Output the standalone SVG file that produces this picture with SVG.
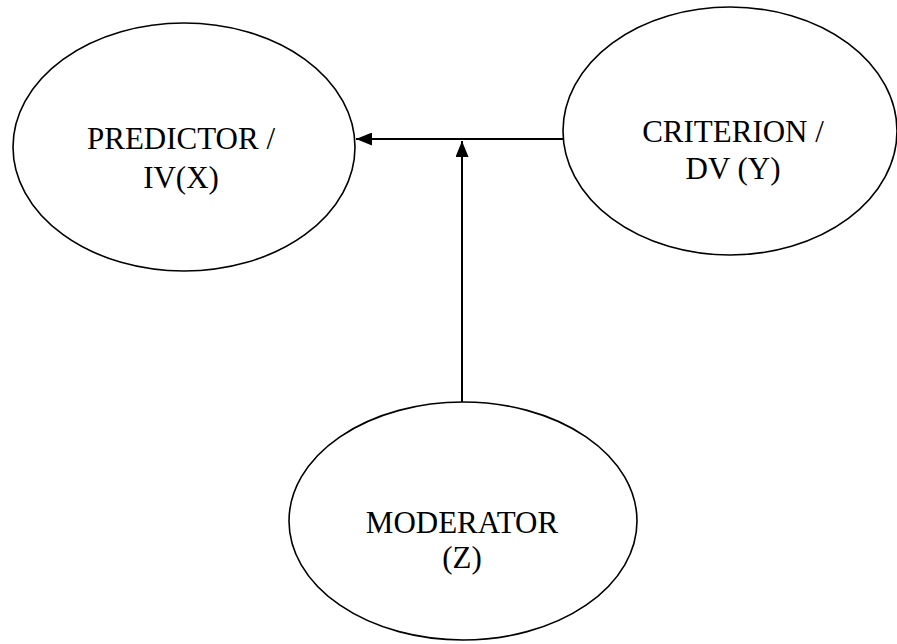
<svg xmlns="http://www.w3.org/2000/svg" width="897" height="644" viewBox="0 0 897 644">
<style>
.node{fill:#fff;stroke:#000;stroke-width:1.6}
.lbl{font-family:"Liberation Serif","Times New Roman",serif;font-size:31px;fill:#000;text-anchor:middle}
.edge{stroke:#000;stroke-width:2;fill:none}
</style>
<defs>
<marker id="ah" viewBox="0 0 16 13" refX="16" refY="6.5" markerWidth="16" markerHeight="13" markerUnits="userSpaceOnUse" orient="auto">
<path d="M0,0 L16,6.5 L0,13 Z" fill="#000"/>
</marker>
</defs>
<g id="predictor">
<ellipse class="node" cx="184" cy="147" rx="171" ry="124"/>
<text class="lbl" x="181" y="149">PREDICTOR /</text>
<text class="lbl" x="181" y="188">IV(X)</text>
</g>
<g id="criterion">
<ellipse class="node" cx="730" cy="131" rx="167" ry="124"/>
<text class="lbl" x="733" y="142">CRITERION /</text>
<text class="lbl" x="733" y="179">DV (Y)</text>
</g>
<g id="moderator">
<ellipse class="node" cx="463" cy="521" rx="174" ry="119"/>
<text class="lbl" x="462" y="533">MODERATOR</text>
<text class="lbl" x="462" y="568">(Z)</text>
</g>
<g id="connectors">
<line class="edge" x1="563" y1="139" x2="356" y2="139" marker-end="url(#ah)"/>
<line class="edge" x1="462" y1="402" x2="462" y2="141" marker-end="url(#ah)"/>
</g>
</svg>
